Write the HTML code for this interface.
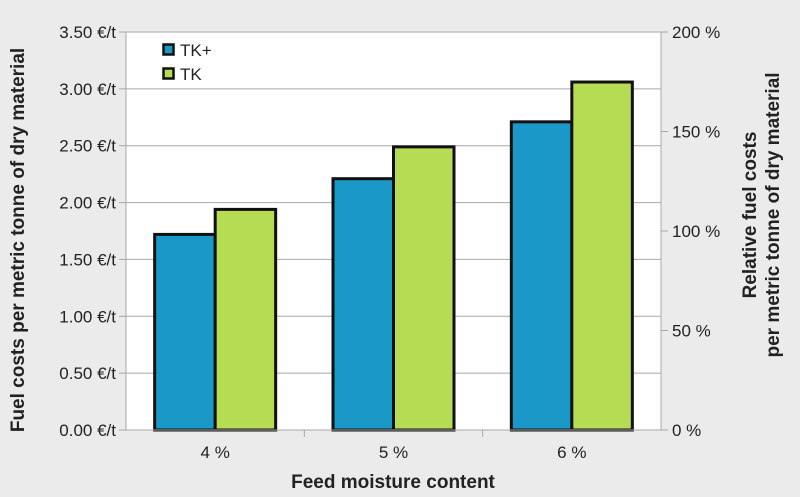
<!DOCTYPE html>
<html><head><meta charset="utf-8"><style>
body{margin:0;background:#ebebeb;}
svg{display:block;font-family:"Liberation Sans",sans-serif;}
</style></head><body>
<svg id="chart" width="800" height="497">
<rect x="0" y="0" width="800" height="497" fill="#ebebeb"/>
<rect x="126" y="32" width="535" height="398" fill="#ffffff"/>
<g id="grid"></g><g id="bars"></g><g id="axes"></g>
<g>
<rect x="163.5" y="44.5" width="10" height="10" fill="#1a98c7" stroke="#111" stroke-width="2.5"/>
<text x="180" y="56" font-size="17" fill="#222">TK+</text>
<rect x="163.5" y="68.5" width="10" height="10" fill="#b5dc52" stroke="#111" stroke-width="2.5"/>
<text x="180" y="80" font-size="17" fill="#222">TK</text>
</g>
<text transform="translate(24,240) rotate(-90)" text-anchor="middle" font-size="19" font-weight="bold" fill="#222">Fuel costs per metric tonne of dry material</text>
<text transform="translate(756,215) rotate(-90)" text-anchor="middle" font-size="19" font-weight="bold" fill="#222">Relative fuel costs</text>
<text transform="translate(779,215) rotate(-90)" text-anchor="middle" font-size="19" font-weight="bold" fill="#222">per metric tonne of dry material</text>
<text x="393" y="488" text-anchor="middle" font-size="19" font-weight="bold" fill="#222">Feed moisture content</text>
</svg>
<script>
const categories=["4 %","5 %","6 %"];
const tkPlus=[1.72,2.21,2.71];
const tk=[1.94,2.49,3.06];
const yTicks=[0,0.5,1,1.5,2,2.5,3,3.5];
const yTickLabels=["0.00 €/t","0.50 €/t","1.00 €/t","1.50 €/t","2.00 €/t","2.50 €/t","3.00 €/t","3.50 €/t"];
const y2Ticks=[0,50,100,150,200];
const y2TickLabels=["0 %","50 %","100 %","150 %","200 %"];
const ns="http://www.w3.org/2000/svg";
const L=126,R=661,T=32,B=430;
const y=v=>B-(v/3.5)*(B-T);
const y2=v=>B-(v/200)*(B-T);
const gw=(R-L)/categories.length;
const x=i=>L+gw*i;
function mk(tag,attrs,parent,txt){const e=document.createElementNS(ns,tag);for(const k in attrs)e.setAttribute(k,attrs[k]);if(txt!==undefined)e.textContent=txt;document.getElementById(parent).appendChild(e);return e;}
yTicks.forEach((t,i)=>{
 if(t>0){const g=mk('line',{x1:L,x2:R,y1:y(t),y2:y(t),stroke:'#a8a8a8','stroke-width':1},'grid');
 
 }
 const tk_=mk('line',{x1:L-7,x2:L,y1:y(t),y2:y(t),stroke:'#a8a8a8'},'axes');
 
 
 const lb=mk('text',{x:L-10,y:y(t)+6,'text-anchor':'end','font-size':17,fill:'#222'},'axes',yTickLabels[i]);
 
 
});
y2Ticks.forEach((t,i)=>{
 const tk_=mk('line',{x1:R,x2:R+7,y1:y2(t),y2:y2(t),stroke:'#a8a8a8'},'axes');
 
 
 const lb=mk('text',{x:R+11,y:y2(t)+6,'font-size':17,fill:'#222'},'axes',y2TickLabels[i]);
 
 
});
const ax=mk('line',{x1:L,x2:L,y1:T,y2:B,stroke:'#a8a8a8'},'axes');


const ax2=mk('line',{x1:R,x2:R,y1:T,y2:B,stroke:'#a8a8a8'},'axes');


const axb=mk('line',{x1:L,x2:R,y1:B,y2:B,stroke:'#a8a8a8'},'axes');


const bw=60.5;
categories.forEach((c,i)=>{
 const cx=x(i)+gw/2;
 const b1=mk('rect',{x:cx-bw,y:y(tkPlus[i]),width:bw,height:B-y(tkPlus[i]),fill:'#1a98c7',stroke:'#111','stroke-width':3},'bars');
 
 
 const b2=mk('rect',{x:cx,y:y(tk[i]),width:bw,height:B-y(tk[i]),fill:'#b5dc52',stroke:'#111','stroke-width':3},'bars');
 
 
 if(i>0){const t=mk('line',{x1:x(i),x2:x(i),y1:B,y2:B+7,stroke:'#a8a8a8'},'axes');
 
 }
 const lb=mk('text',{x:cx,y:B+28,'text-anchor':'middle','font-size':17,fill:'#222'},'axes',c);
 
 
});
</script>
</body></html>
